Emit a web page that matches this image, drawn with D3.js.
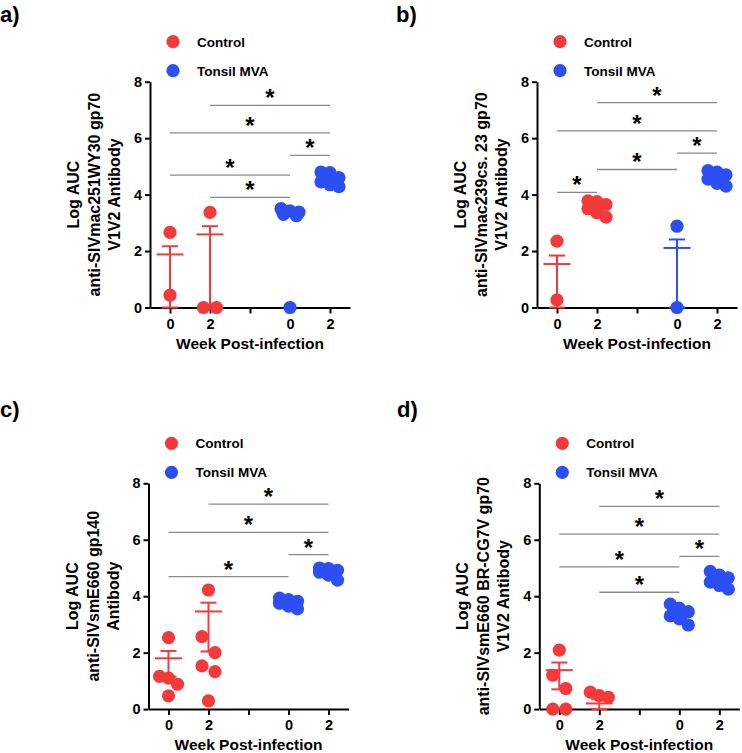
<!DOCTYPE html>
<html><head><meta charset="utf-8">
<script src="https://cdn.jsdelivr.net/npm/d3@7"></script>
<style>
body{margin:0;background:#fff}
svg{display:block}
text{font-family:"Liberation Sans",Arial,Helvetica,sans-serif;font-weight:bold;fill:#000}
</style>
</head><body>
<svg id="chart" width="742" height="753"></svg>
<script>
// ---------- data ----------
const seriesNames = ["Control", "Tonsil MVA"];
const groupKeys = ["c0", "c2", "gap", "t0", "t2"];
const dataGroups = ["c0", "c2", "t0", "t2"];
const groupSeries = [0, 0, 1, 1];
const xTickLabels = ["0", "2", "", "0", "2"];
const yTickValues = [0, 2, 4, 6, 8];
const panelLabels = ["a)", "b)", "c)", "d)"];
const xTitle = "Week Post-infection";
const yTitles = [
  ["Log AUC", "anti-SIVmac251WY30 gp70", "V1V2 Antibody"],
  ["Log AUC", "anti-SIVmac239cs. 23 gp70", "V1V2 Antibody"],
  ["Log AUC", "anti-SIVsmE660 gp140", "Antibody"],
  ["Log AUC", "anti-SIVsmE660 BR-CG7V gp70", "V1V2 Antibody"]
];

// panel a
const pointsA = [[2.66, 0.44], [3.37, 0, 0], [3.5, 3.42, 3.38, 3.3, 3.25, 0], [4.8, 4.78, 4.6, 4.45, 4.35, 4.28]];
const meanA = [1.88, 2.59, 3.33, 4.57];
const lowA = [0, 0, 3.28, 4.5];
const highA = [2.17, 2.88, 3.38, 4.64];
const sigA = [["c2", "t2", 7.16], ["c0", "t2", 6.19], ["t0", "t2", 5.39], ["c0", "t0", 4.69], ["c2", "t0", 3.9]];
// panel b
const pointsB = [[2.35, 0.27], [3.78, 3.75, 3.65, 3.5, 3.35, 3.2], [2.88, 0], [4.85, 4.8, 4.7, 4.55, 4.4, 4.3]];
const meanB = [1.54, 3.56, 2.11, 4.6];
const lowB = [0, 3.47, 0, 4.52];
const highB = [1.84, 3.65, 2.41, 4.68];
const sigB = [["c2", "t2", 7.26], ["c0", "t2", 6.26], ["t0", "t2", 5.47], ["c2", "t0", 4.89], ["c0", "c2", 4.08]];
// panel c
const pointsC = [[2.53, 1.16, 1.1, 0.88, 0.47], [4.22, 2.57, 2.0, 1.53, 1.33, 0.29], [3.93, 3.88, 3.82, 3.75, 3.65, 3.55], [5.0, 4.98, 4.92, 4.85, 4.75, 4.57]];
const meanC = [1.8, 3.46, 3.78, 4.87];
const lowC = [1.15, 2.04, 3.72, 4.8];
const highC = [2.06, 3.77, 3.84, 4.94];
const sigC = [["c2", "t2", 7.26], ["c0", "t2", 6.26], ["t0", "t2", 5.47], ["c0", "t0", 4.69]];
// panel d
const pointsD = [[2.09, 1.2, 0.73, 0, 0], [0.6, 0.48, 0.42], [3.72, 3.58, 3.45, 3.3, 3.2, 2.98], [4.88, 4.75, 4.65, 4.5, 4.38, 4.25]];
const meanD = [1.38, 0.2, 3.32, 4.59];
const lowD = [0.7, 0, 3.2, 4.5];
const highD = [1.65, 0.35, 3.45, 4.68];
const sigD = [["c2", "t2", 7.18], ["c0", "t2", 6.2], ["t0", "t2", 5.41], ["c0", "t0", 5.04], ["c2", "t0", 4.14]];

const panels = [
  {points: pointsA, mean: meanA, low: lowA, high: highA, sig: sigA},
  {points: pointsB, mean: meanB, low: lowB, high: highB, sig: sigB},
  {points: pointsC, mean: meanC, low: lowC, high: highC, sig: sigC},
  {points: pointsD, mean: meanD, low: lowD, high: highD, sig: sigD}
];

// ---------- layout ----------
const colors = ["#f23a3a", "#2b4ff3"];
const W = 200, H = 225.8, R = 6.6;
const layout = [
  {x: 150, y: 81.7, lx: 0, ly: 22},
  {x: 537, y: 81.7, lx: 396, ly: 22},
  {x: 148.5, y: 483.3, lx: 0, ly: 417},
  {x: 539.3, y: 483.3, lx: 397, ly: 417}
];

const svg = d3.select("#chart");

function swarm(vals, yScale) {
  const sorted = vals.map((v, i) => ({v, i})).sort((a, b) => b.v - a.v);
  const rows = [];
  sorted.forEach(p => {
    const last = rows[rows.length - 1];
    if (last && last.length < 3 && Math.abs(yScale(last[0].v) - yScale(p.v)) < 17) last.push(p);
    else rows.push([p]);
  });
  const out = [];
  rows.forEach(row => {
    const n = row.length, sp = n === 2 ? 13 : 9;
    row.forEach((p, k) => out.push({v: p.v, dx: (k - (n - 1) / 2) * sp}));
  });
  return out;
}

panels.forEach((P, pi) => {
  const L = layout[pi];
  const g = svg.append("g");
  const x = d3.scalePoint().domain(groupKeys).range([L.x, L.x + W]).padding(0.5);
  const y = d3.scaleLinear().domain([0, 8]).range([L.y + H, L.y]);

  // panel label
  g.append("text").attr("x", L.lx).attr("y", L.ly).style("font-size", "22px").text(panelLabels[pi]);

  // legend
  seriesNames.forEach((s, si) => {
    const cy = L.y - 40 + si * 29;
    g.append("circle").attr("cx", L.x + 23).attr("cy", cy).attr("r", R).attr("fill", colors[si]);
    g.append("text").attr("x", L.x + 47).attr("y", cy).attr("dy", "0.36em")
      .style("font-size", "13.5px").text(s);
  });

  // significance bars
  P.sig.forEach(([a, b, v]) => {
    g.append("line").attr("x1", x(a)).attr("x2", x(b)).attr("y1", y(v)).attr("y2", y(v))
      .attr("stroke", "#8a8a8a").attr("stroke-width", 1.3);
    g.append("text").attr("x", (x(a) + x(b)) / 2).attr("y", y(v) + 1)
      .attr("text-anchor", "middle").style("font-size", "24px").text("*");
  });

  // axes
  const ya = g.append("g").attr("transform", `translate(${L.x},0)`)
    .call(d3.axisLeft(y).tickValues(yTickValues).tickSize(5).tickSizeOuter(0).tickPadding(3));
  const xa = g.append("g").attr("transform", `translate(0,${L.y + H})`)
    .call(d3.axisBottom(x).tickSize(6).tickSizeOuter(0).tickPadding(5)
      .tickFormat((d, i) => xTickLabels[i]));
  [ya, xa].forEach(a => {
    a.attr("font-family", null).attr("font-size", null);
    a.selectAll("path,line").attr("stroke", "#000").attr("stroke-width", 2);
    a.selectAll("text").style("font-size", "14.5px").attr("fill", "#000");
  });

  // axis titles
  g.append("text").attr("x", L.x + W / 2).attr("y", L.y + H + 41)
    .attr("text-anchor", "middle").style("font-size", "15.5px").text(xTitle);
  const offs = [-71, -50, -30];
  yTitles[pi].forEach((t, li) => {
    g.append("text")
      .attr("transform", `translate(${L.x + offs[li]},${L.y + H / 2}) rotate(-90)`)
      .attr("text-anchor", "middle").style("font-size", "16px").text(t);
  });

  // points
  dataGroups.forEach((k, gi) => {
    const col = colors[groupSeries[gi]];
    swarm(P.points[gi], y).forEach(p => {
      g.append("circle").attr("cx", x(k) + p.dx).attr("cy", y(p.v)).attr("r", R).attr("fill", col);
    });
  });

  // mean and error bars
  dataGroups.forEach((k, gi) => {
    const col = colors[groupSeries[gi]], cx = x(k);
    const ln = (x1, y1, x2, y2) => g.append("line").attr("x1", x1).attr("y1", y1)
      .attr("x2", x2).attr("y2", y2).attr("stroke", col).attr("stroke-width", 2);
    ln(cx, y(P.low[gi]), cx, y(P.high[gi]));
    ln(cx - 8, y(P.high[gi]), cx + 8, y(P.high[gi]));
    ln(cx - 8, y(P.low[gi]), cx + 8, y(P.low[gi]));
    ln(cx - 13.5, y(P.mean[gi]), cx + 13.5, y(P.mean[gi]));
  });
});
</script>
</body></html>
